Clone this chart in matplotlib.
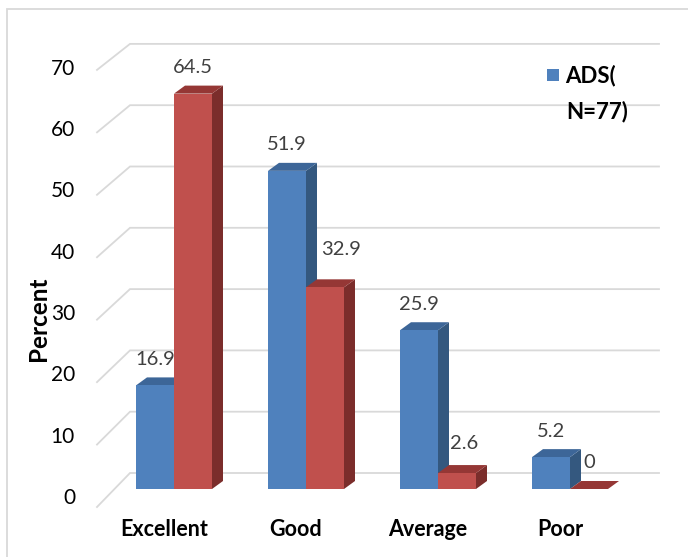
import matplotlib
matplotlib.use("Agg")
import matplotlib.pyplot as plt
from matplotlib.patches import Polygon, Rectangle

# ---- data -------------------------------------------------------------
categories = ["Excellent", "Good", "Average", "Poor"]
ads_values = [16.9, 51.9, 25.9, 5.2]      # ADS (N=77)
other_values = [64.5, 32.9, 2.6, 0.0]     # second group
y_ticks = [0, 10, 20, 30, 40, 50, 60, 70]
legend_label = "ADS(\nN=77)"

# ---- styling ------------------------------------------------------------
W, H, DPI = 688, 557, 100
PX_PER_CAT = 132.0      # horizontal pixels per category
PX_PER_PCT = 6.13       # vertical pixels per percent
ORIGIN_X = 174.0        # pixel x of first category centre
ORIGIN_Y = 489.0        # pixel y (from top) of the value 0 on the bar fronts

BAR_W = 38 / PX_PER_CAT
DEPTH_X = 11 / PX_PER_CAT
DEPTH_Y = 8 / PX_PER_PCT

BLUE = ("#4F81BD", "#3D6698", "#34587F")   # front, top, side
RED = ("#C0504D", "#953735", "#7B2D2B")
GRID = "#D9D9D9"
LABEL_GREY = "#404040"
FONT = "Lato"

plt.rcParams["font.family"] = [FONT, "DejaVu Sans"]

fig = plt.figure(figsize=(W / DPI, H / DPI), dpi=DPI)
ax = fig.add_axes([0, 0, 1, 1])
ax.set_xlim(-ORIGIN_X / PX_PER_CAT, (W - ORIGIN_X) / PX_PER_CAT)
ax.set_ylim(-(H - ORIGIN_Y) / PX_PER_PCT, ORIGIN_Y / PX_PER_PCT)
ax.axis("off")


def xpix(px):
    """Absolute pixel column -> data x."""
    return (px - ORIGIN_X) / PX_PER_CAT


def ypix(py):
    """Absolute pixel row (from top) -> data y."""
    return (ORIGIN_Y - py) / PX_PER_PCT


def px_dx(px):
    return px / PX_PER_CAT


def px_dy(px):
    return px / PX_PER_PCT


# chart-area border (continues past the right and bottom edges)
ax.add_patch(Rectangle((xpix(7), ypix(H + 10)), xpix(W + 10) - xpix(7),
                       ypix(9) - ypix(H + 10),
                       fill=False, edgecolor=GRID, lw=1.3, zorder=0))

# back-wall gridlines with the left side-wall stubs
for t in y_ticks:
    back_y = t + px_dy(16)
    front_y = t - px_dy(18 - 8 * t / 70)
    ax.plot([xpix(97), xpix(130), xpix(659)], [front_y, back_y, back_y],
            color=GRID, lw=1.3, zorder=1, solid_joinstyle="miter")
    ax.text(xpix(75), t - px_dy(9), str(t),
            ha="right", va="center", fontsize=15, color="black")


def bar3d(x_left, value, colors, z):
    front, top, side = colors
    x_right = x_left + BAR_W
    ax.add_patch(Polygon([(x_right, 0), (x_right + DEPTH_X, DEPTH_Y),
                          (x_right + DEPTH_X, value + DEPTH_Y), (x_right, value)],
                         closed=True, facecolor=side, edgecolor="none", zorder=z))
    ax.add_patch(Polygon([(x_left, value), (x_right, value),
                          (x_right + DEPTH_X, value + DEPTH_Y),
                          (x_left + DEPTH_X, value + DEPTH_Y)],
                         closed=True, facecolor=top, edgecolor="none", zorder=z))
    ax.bar(x_left, value, width=BAR_W, align="edge", color=front,
           edgecolor="none", zorder=z)


# value-label nudges in pixels (dx, dy)
nudges = {(1, 1): (16, -12), (2, 1): (7, -4)}

for i, (a, b) in enumerate(zip(ads_values, other_values)):
    bar3d(i - BAR_W, a, BLUE, 3 + 2 * i)
    bar3d(i, b, RED, 4 + 2 * i)
    for s, (val, xl) in enumerate([(a, i - BAR_W), (b, i)]):
        ndx, ndy = nudges.get((i, s), (0, 0))
        ax.text(xl + BAR_W / 2 + px_dx(ndx), val + px_dy(26 - ndy),
                f"{val:g}", ha="center", va="center", fontsize=14.5,
                color=LABEL_GREY, zorder=20)
    ax.text(i - px_dx(10), -px_dy(40), categories[i], ha="center", va="center",
            fontsize=15.5, fontweight="bold", color="black")

# y-axis title
ax.text(xpix(39), ypix(319), "Percent",
        rotation=90, ha="center", va="center", fontsize=17.5, fontweight="bold")

# legend
ax.add_patch(Rectangle((xpix(547), ypix(81)), px_dx(12), px_dy(12),
                       facecolor=BLUE[0], edgecolor="none", zorder=20))
line1, line2 = legend_label.split("\n")
ax.text(xpix(565), ypix(76), line1,
        ha="left", va="center", fontsize=16, fontweight="bold", zorder=20)
ax.text(xpix(566), ypix(112), line2,
        ha="left", va="center", fontsize=16, fontweight="bold", zorder=20)

fig.savefig("out.png", dpi=DPI)
